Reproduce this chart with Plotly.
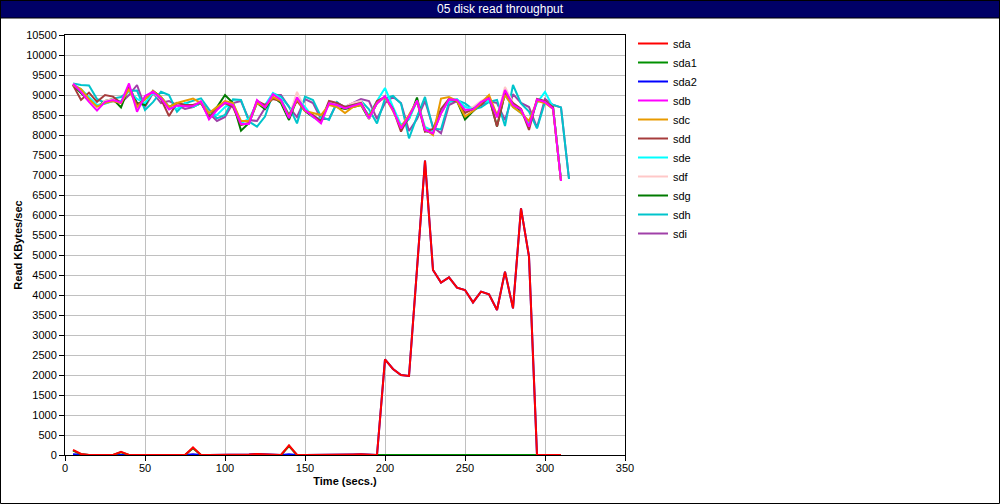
import plotly.graph_objects as go

t62 = list(range(5, 315, 5))   # 5..310
t63 = list(range(5, 320, 5))   # 5..315

sda = [130, 25, 0, 0, 0, 0, 80, 0, 0, 0, 0, 0, 0, 0, 0, 190, 0, 0, 0, 0, 0, 0, 10, 25, 15, 0, 0, 240, 0, 0,
       0, 0, 0, 0, 10, 15, 20, 15, 0, 2390, 2150, 2000, 1975, 4650, 7360, 4625, 4310, 4440, 4185, 4125,
       3815, 4085, 4015, 3625, 4585, 3665, 6165, 4960, 0, 0, 0, 0]
sda1 = [110, 20, 0, 0, 0, 0, 70, 0, 0, 0, 0, 0, 0, 0, 0, 170, 0, 0, 0, 0, 0, 0, 0, 0, 0, 0, 0, 220, 0, 0,
        0, 0, 0, 0, 0, 0, 0, 0, 0, 0, 0, 0, 0, 0, 0, 0, 0, 0, 0, 0,
        0, 0, 0, 0, 0, 0, 0, 0, 0, 0, 0, 0]
sda2 = [20, 5, 0, 0, 0, 0, 10, 0, 0, 0, 0, 0, 0, 0, 0, 20, 0, 0, 0, 0, 0, 0, 10, 25, 15, 0, 0, 20, 0, 0,
        0, 0, 0, 0, 10, 15, 20, 15, 0, 2390, 2150, 2000, 1975, 4650, 7360, 4625, 4310, 4440, 4185, 4125,
        3815, 4085, 4015, 3625, 4585, 3665, 6165, 4960, 0, 0, 0, 0]
sdb = [9280, 9080, 8830, 8610, 8830, 8875, 8810, 9290, 8580, 8975, 9080, 8915, 8640, 8740, 8720, 8720,
       8840, 8390, 8625, 8810, 8750, 8275, 8275, 8875, 8690, 9020, 8875, 8420, 8940, 8625, 8460, 8290,
       8790, 8750, 8665, 8725, 8790, 8415, 8790, 8975, 8625, 8165, 8460, 8860, 8125, 8040, 8540, 8890,
       8875, 8625, 8640, 8825, 8915, 8440, 9125, 8750, 8640, 8210, 8890, 8825, 8665, 6850]
sdc = [9250, 9150, 8900, 8710, 8800, 8850, 8800, 9150, 8700, 8900, 9100, 8950, 8700, 8800, 8850, 8910,
       8800, 8550, 8700, 8850, 8800, 8350, 8350, 8800, 8700, 8950, 8850, 8450, 8900, 8600, 8550, 8500,
       8750, 8700, 8550, 8700, 8750, 8450, 8800, 8950, 8600, 8200, 8500, 8850, 8150, 8000, 8910, 8950,
       8850, 8460, 8600, 8800, 9000, 8500, 9000, 8700, 8550, 8350, 8850, 8800, 8650, 6850]
sdd = [9250, 8875, 9060, 8830, 9000, 8960, 8800, 9200, 8750, 8900, 9100, 8900, 8475, 8800, 8750, 8750,
       8800, 8450, 8650, 8800, 8700, 8250, 8300, 8850, 8750, 8900, 8850, 8500, 8850, 8600, 8500, 8350,
       8850, 8800, 8700, 8750, 8800, 8450, 8850, 8950, 8650, 8085, 8450, 8850, 8085, 8150, 8650, 8900,
       8850, 8550, 8650, 8750, 8950, 8210, 9050, 8800, 8650, 8125, 8900, 8850, 8700, 6850]
sde = [9250, 9150, 8950, 8750, 8780, 8850, 8850, 9100, 8900, 8800, 9050, 8950, 8700, 8650, 8800, 8700,
       8800, 8550, 8500, 8700, 8800, 8300, 8400, 8800, 8750, 9050, 8900, 8500, 8900, 8700, 8450, 8400,
       8800, 8700, 8700, 8750, 8750, 8500, 8850, 9175, 8700, 8250, 8400, 8850, 8200, 8100, 8600, 8850,
       8900, 8700, 8650, 8800, 8850, 8500, 9000, 8700, 8550, 8300, 8800, 9080, 8700, 6900]
sdf = [9280, 9100, 8850, 8650, 8850, 8900, 8800, 9250, 8650, 8950, 9050, 8900, 8650, 8750, 8750, 8750,
       8850, 8450, 8650, 8800, 8750, 8300, 8300, 8850, 8700, 9000, 8900, 8450, 9080, 8650, 8500, 8350,
       8800, 8750, 8700, 8800, 8850, 8400, 8800, 8950, 8650, 8200, 8500, 8850, 8150, 8100, 8550, 8900,
       8900, 8650, 8700, 8850, 8950, 8450, 9200, 8800, 8650, 8250, 8850, 8850, 8700, 6850]
sdg = [9250, 9050, 8850, 8700, 8850, 8900, 8690, 9200, 8800, 8750, 9100, 8950, 8700, 8800, 8750, 8700,
       8800, 8500, 8700, 9000, 8800, 8110, 8300, 8800, 8650, 8950, 8800, 8375, 8900, 8600, 8450, 8350,
       8800, 8700, 8650, 8700, 8750, 8400, 8800, 8950, 8650, 8200, 8400, 8935, 8100, 8050, 8550, 8900,
       8850, 8390, 8600, 8800, 8950, 8210, 9050, 8750, 8600, 8250, 8850, 8850, 8700, 6850]
sdh = [9290, 9250, 9240, 8900, 8800, 8910, 8950, 9100, 9110, 8625, 8820, 9080, 9000, 8580, 8790, 8850,
       8915, 8640, 8415, 8500, 8890, 8875, 8335, 8210, 8460, 9040, 8960, 8710, 8290, 8960, 8875, 8460,
       8375, 8825, 8665, 8790, 8850, 8640, 8290, 8910, 8975, 8790, 7915, 8460, 8950, 8165, 8140, 8825,
       8875, 8790, 8640, 8690, 8825, 8875, 8225, 9250, 8790, 8585, 8165, 8825, 8750, 8690, 6900]
sdi = [9250, 9100, 8900, 8700, 8800, 8850, 8800, 9000, 9250, 8700, 9050, 8800, 8850, 8750, 8650, 8700,
       8850, 8550, 8350, 8450, 8800, 8850, 8375, 8350, 8690, 9000, 9000, 8700, 8450, 8900, 8800, 8400,
       8400, 8800, 8700, 8800, 8900, 8850, 8400, 8800, 8950, 8800, 8100, 8400, 8850, 8200, 8040, 8750,
       8850, 8700, 8600, 8750, 8850, 8800, 8375, 9020, 8800, 8700, 8185, 8900, 8750, 8690, 6900]

names = ["sda", "sda1", "sda2", "sdb", "sdc", "sdd", "sde", "sdf", "sdg", "sdh", "sdi"]
values = [sda, sda1, sda2, sdb, sdc, sdd, sde, sdf, sdg, sdh, sdi]
times = [t62, t62, t62, t62, t62, t62, t62, t62, t62, t63, t63]
colors = ["#FF0000", "#009000", "#0000FF", "#FF00FF", "#E89A00", "#A63C3C",
          "#00FFFF", "#FFC8C8", "#007A00", "#00C4CC", "#A040A8"]

fig = go.Figure()
# draw in reverse so that sda ends up on top
for i in reversed(range(len(names))):
    fig.add_trace(go.Scatter(x=times[i], y=values[i], name=names[i], mode="lines",
                             line=dict(color=colors[i], width=2), legendrank=i + 1))

L, T, W, H = 65, 35, 560, 420
def px(x):
    return (x - L) / W
def py(y):
    return (T + H - y) / H

fig.update_layout(
    width=1000, height=504,
    margin=dict(l=L, r=1000 - L - W, t=T, b=504 - T - H),
    paper_bgcolor="white", plot_bgcolor="white",
    font=dict(family="Liberation Sans, Arial, sans-serif", size=11, color="black"),
    showlegend=True,
    legend=dict(x=px(633), y=py(29), xanchor="left", yanchor="top",
                font=dict(size=11), bgcolor="rgba(0,0,0,0)", tracegroupgap=0),
    xaxis=dict(range=[0, 350], dtick=50, tick0=0, showgrid=True, gridcolor="#C0C0C0", gridwidth=1,
               showline=True, linecolor="black", linewidth=1, mirror=True, ticks="outside",
               ticklen=5, tickcolor="black", zeroline=False, tickformat="d", ticklabelstandoff=-2,
               title=dict(text="<b>Time (secs.)</b>", font=dict(size=11), standoff=4)),
    yaxis=dict(range=[0, 10500], dtick=500, tick0=0, showgrid=True, gridcolor="#C0C0C0", gridwidth=1,
               showline=True, linecolor="black", linewidth=1, mirror=True, ticks="outside",
               ticklen=5, tickcolor="black", zeroline=False, tickformat="d",
               title=dict(text="<b>Read KBytes/sec</b>", font=dict(size=11), standoff=1)),
    shapes=[
        dict(type="rect", xref="paper", yref="paper", x0=px(0), x1=px(1000), y0=py(18), y1=py(0),
             fillcolor="#000066", line=dict(color="black", width=1), layer="above"),
        dict(type="rect", xref="paper", yref="paper", x0=px(0.5), x1=px(999.5), y0=py(503.5), y1=py(0.5),
             fillcolor="rgba(0,0,0,0)", line=dict(color="black", width=1), layer="above"),
    ],
    annotations=[
        dict(text="05 disk read throughput", xref="paper", yref="paper", x=px(500), y=py(9),
             xanchor="center", yanchor="middle", showarrow=False,
             font=dict(family="Liberation Sans Narrow, Liberation Sans, Arial", size=12, color="white")),
    ],
)

fig.write_html("out.html", config={"displayModeBar": False},
               post_script="document.body.style.margin='0';document.body.style.overflow='hidden';")
